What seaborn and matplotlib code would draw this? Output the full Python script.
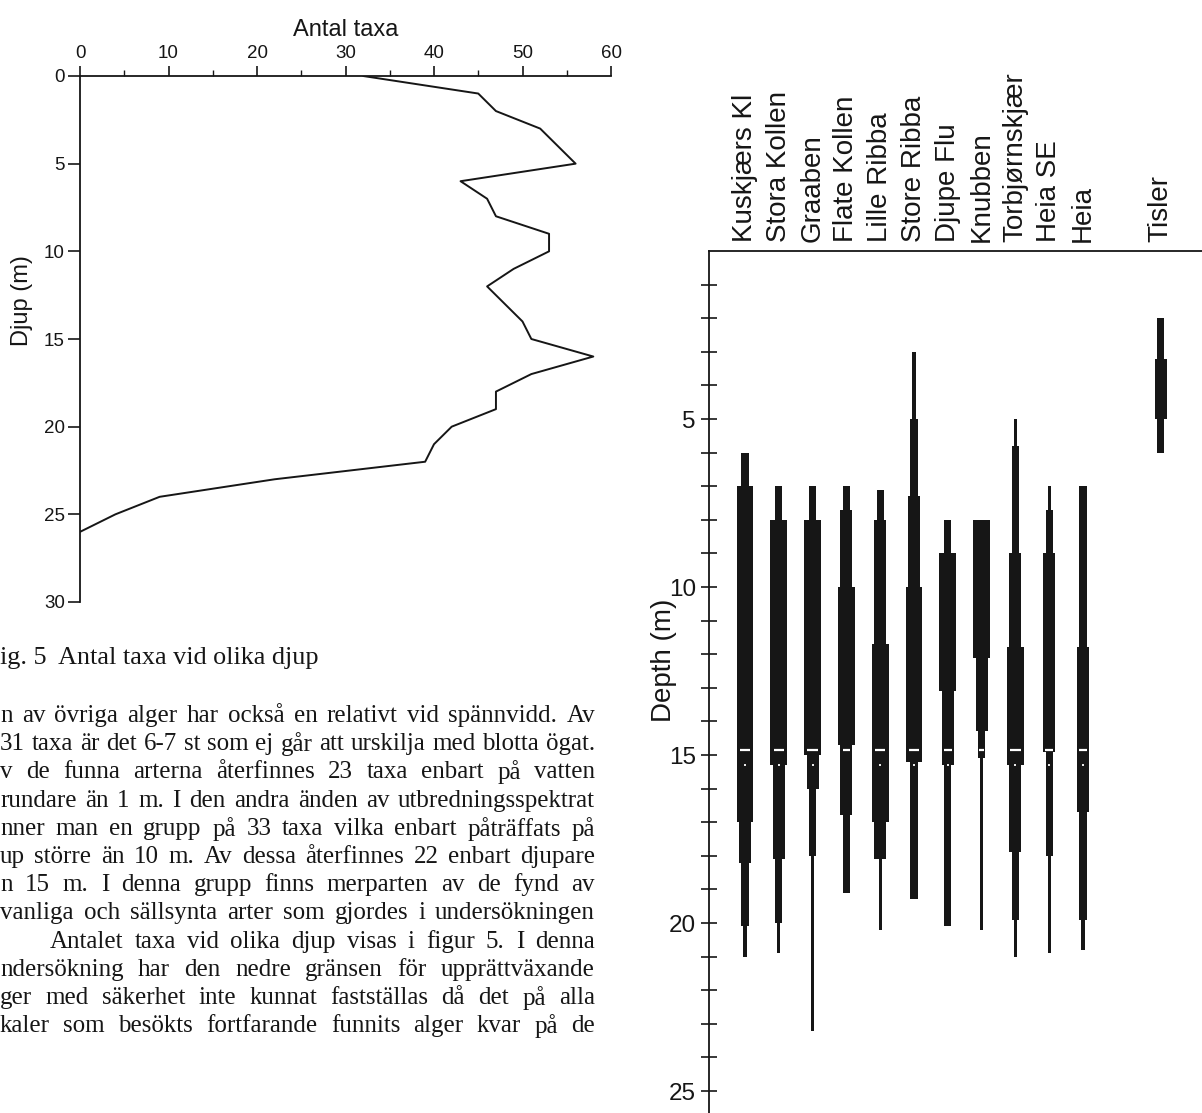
import numpy as np
import pandas as pd
import matplotlib
matplotlib.use("Agg")
import matplotlib.pyplot as plt
import seaborn as sns

# ---------------- data: Fig. 5 (number of taxa vs depth) ----------------
depth_m = [0, 1, 2, 3, 4, 5, 6, 7, 8, 9, 10, 11, 12, 13, 14, 15, 16, 17, 18,
           19, 20, 21, 22, 23, 24, 25, 26]
antal_taxa = [32, 45, 47, 52, 54, 56, 43, 46, 47, 53, 53, 49, 46, 48, 50, 51,
              58, 51, 47, 47, 42, 40, 39, 22, 9, 4, 0]
taxa_ticks = [0, 10, 20, 30, 40, 50, 60]
djup_ticks = [0, 5, 10, 15, 20, 25, 30]

# ---------------- data: depth distribution per site ----------------
sites = ["Kuskjærs Kl", "Stora Kollen", "Graaben", "Flate Kollen", "Lille Ribba",
         "Store Ribba", "Djupe Flu", "Knubben", "Torbjørnskjær", "Heia SE", "Heia",
         "Tisler"]
site_pos = [0, 1, 2, 3, 4, 5, 6, 7, 8, 9, 10, 12.3]

# segments: site index, top depth, bottom depth, abundance class (1..4)
seg_site = [0, 0, 0, 0, 0,
            1, 1, 1, 1, 1,
            2, 2, 2, 2, 2,
            3, 3, 3, 3, 3,
            4, 4, 4, 4, 4,
            5, 5, 5, 5, 5,
            6, 6, 6, 6,
            7, 7, 7, 7,
            8, 8, 8, 8, 8, 8, 8,
            9, 9, 9, 9, 9,
            10, 10, 10, 10,
            11, 11, 11]
seg_top = [6.0, 7.0, 17.0, 18.2, 20.1,
           7.0, 8.0, 15.3, 18.1, 20.0,
           7.0, 8.0, 15.0, 16.0, 18.0,
           7.0, 7.7, 10.0, 14.7, 16.8,
           7.1, 8.0, 11.7, 17.0, 18.1,
           3.0, 5.0, 7.3, 10.0, 15.2,
           8.0, 9.0, 13.1, 15.3,
           8.0, 12.1, 14.3, 15.1,
           5.0, 5.8, 9.0, 11.8, 15.3, 17.9, 19.9,
           7.0, 7.7, 9.0, 14.9, 18.0,
           7.0, 11.8, 16.7, 19.9,
           2.0, 3.2, 5.0]
seg_bottom = [7.0, 17.0, 18.2, 20.1, 21.0,
              8.0, 15.3, 18.1, 20.0, 20.9,
              8.0, 15.0, 16.0, 18.0, 23.2,
              7.7, 10.0, 14.7, 16.8, 19.1,
              8.0, 11.7, 17.0, 18.1, 20.2,
              5.0, 7.3, 10.0, 15.2, 19.3,
              9.0, 13.1, 15.3, 20.1,
              12.1, 14.3, 15.1, 20.2,
              5.8, 9.0, 11.8, 15.3, 17.9, 19.9, 21.0,
              7.7, 9.0, 14.9, 18.0, 20.9,
              11.8, 16.7, 19.9, 20.8,
              3.2, 5.0, 6.0]
seg_class = [2, 4, 3, 2, 1,
             2, 4, 3, 2, 1,
             2, 4, 3, 2, 1,
             2, 3, 4, 3, 2,
             2, 3, 4, 3, 1,
             1, 2, 3, 4, 2,
             2, 4, 3, 2,
             4, 3, 2, 1,
             1, 2, 3, 4, 3, 2, 1,
             1, 2, 3, 2, 1,
             2, 3, 2, 1,
             2, 3, 2]
# small white marks visible on the bars around 15 m
mark_site = [0, 1, 2, 3, 4, 5, 6, 7, 8, 9, 10]
mark_depth = [14.85, 14.85, 14.85, 14.85, 14.85, 14.85, 14.85, 14.85, 14.85, 14.85, 14.85]
dot_site = [0, 1, 2, 4, 5, 6, 8, 9, 10]
dot_depth = [15.3, 15.3, 15.3, 15.3, 15.3, 15.3, 15.3, 15.3, 15.3]
depth_ticks_major = [5, 10, 15, 20, 25]

# ---------------- running text ----------------
caption = "ig. 5  Antal taxa vid olika djup"
body_lines = [
    "n av övriga alger har också en relativt vid spännvidd.  Av",
    "31 taxa är det 6-7 st som ej går att urskilja med blotta ögat.",
    "v de funna arterna återfinnes 23 taxa enbart på vatten",
    "rundare än 1 m. I den andra änden av utbredningsspektrat",
    "nner man en grupp på 33 taxa vilka enbart påträffats på",
    "up större än 10 m. Av dessa återfinnes 22 enbart djupare",
    "n 15 m. I denna grupp finns merparten av de fynd av",
    "vanliga och sällsynta arter som gjordes i undersökningen",
    "Antalet taxa vid olika djup visas i figur 5. I denna",
    "ndersökning har den nedre gränsen för upprättväxande",
    "ger med säkerhet inte kunnat fastställas då det på alla",
    "kaler som besökts fortfarande funnits alger kvar på de",
]

# ---------------- style ----------------
sns.set_theme(style="white")
plt.rcParams["font.family"] = ["Liberation Sans", "DejaVu Sans"]
plt.rcParams["axes.linewidth"] = 1.3
INK = "#161616"

W, H = 1202, 1113
fig = plt.figure(figsize=(W / 100, H / 100), dpi=100)
fig.patch.set_facecolor("white")


def fx(px):
    return px / W


def fy(py):
    return 1 - py / H


# ---------------- left chart ----------------
L0, L1, T0, B0 = 80, 611, 76, 602
axL = fig.add_axes([fx(L0), fy(B0), (L1 - L0) / W, (B0 - T0) / H])
axL.set_facecolor("none")
df_left = pd.DataFrame({"taxa": antal_taxa, "depth": depth_m})
sns.lineplot(data=df_left, x="taxa", y="depth", orient="y", sort=False,
             estimator=None, color=INK, linewidth=1.4, ax=axL)
axL.set_xlim(0, 60)
axL.set_ylim(30, 0)
axL.xaxis.tick_top()
axL.xaxis.set_label_position("top")
axL.set_xticks(taxa_ticks)
axL.set_xticks([5, 15, 25, 35, 45, 55], minor=True)
axL.set_yticks(djup_ticks)
for s in ["right", "bottom"]:
    axL.spines[s].set_visible(False)
for s in ["left", "top"]:
    axL.spines[s].set_color(INK)
axL.tick_params(axis="x", which="major", direction="out", length=7, width=1.2,
                labelsize=13.5, pad=3, colors=INK, top=True, bottom=False)
axL.tick_params(axis="x", which="minor", direction="out", length=4, width=1.0,
                top=True, bottom=False, colors=INK)
axL.tick_params(axis="y", which="major", direction="out", length=9, width=1.2,
                labelsize=13.5, pad=2, colors=INK, left=True)
axL.set_xlabel("Antal taxa", fontsize=17, color=INK)
axL.xaxis.set_label_coords(0.5, 1.087)
axL.xaxis.label.set_verticalalignment("center")
axL.set_ylabel("Djup (m)", fontsize=17, color=INK)
axL.yaxis.set_label_coords(-0.109, 0.574)
axL.yaxis.label.set_verticalalignment("center")

# ---------------- right chart ----------------
R0, RT = 709, 251
PXU, PXM = 33.8, 33.6
xlim = (-1.065, 14.5)
ylim = (30, 0)
wpx = (xlim[1] - xlim[0]) * PXU
hpx = (ylim[0] - ylim[1]) * PXM
axR = fig.add_axes([fx(R0), fy(RT + hpx), wpx / W, hpx / H])
axR.set_facecolor("none")

class_width = {1: 0.09, 2: 0.21, 3: 0.355, 4: 0.5}
segs = pd.DataFrame({"site": seg_site, "top": seg_top, "bottom": seg_bottom,
                     "cls": seg_class})
segs["x"] = [site_pos[i] for i in segs["site"]]
segs["w"] = segs["cls"].map(class_width)
axR.bar(segs["x"], segs["bottom"] - segs["top"], bottom=segs["top"],
        width=segs["w"], color=INK, linewidth=0)


def width_at(site, d):
    sub = segs[(segs["site"] == site) & (segs["top"] <= d) & (segs["bottom"] >= d)]
    return float(sub["w"].max()) if len(sub) else 0.0


for s_i, d in zip(mark_site, mark_depth):
    w = width_at(s_i, d) * 0.62
    axR.hlines(d, site_pos[s_i] - w / 2, site_pos[s_i] + w / 2, color="white",
               linewidth=1.6)
for s_i, d in zip(dot_site, dot_depth):
    axR.hlines(d, site_pos[s_i] - 0.03, site_pos[s_i] + 0.03, color="white",
               linewidth=1.3)

axR.set_xlim(*xlim)
axR.set_ylim(*ylim)
axR.xaxis.tick_top()
axR.set_xticks(site_pos, labels=sites, rotation=90)
axR.tick_params(axis="x", length=0, pad=6.5, labelsize=20, colors=INK)
for lab in axR.get_xticklabels():
    lab.set_verticalalignment("bottom")
axR.set_yticks(depth_ticks_major)
axR.set_yticks([d for d in range(1, 30) if d % 5 != 0], minor=True)
axR.tick_params(axis="y", which="both", direction="inout", length=12, width=1.2,
                left=True, colors=INK)
axR.tick_params(axis="y", which="major", labelsize=17.5, pad=3.5)
for s in ["right", "bottom"]:
    axR.spines[s].set_visible(False)
for s in ["left", "top"]:
    axR.spines[s].set_color(INK)
axR.set_ylabel("Depth (m)", fontsize=20, color=INK)
axR.yaxis.set_label_coords((664 - R0) / wpx, (RT + hpx - 660) / hpx)
axR.yaxis.label.set_verticalalignment("center")

# ---------------- running text (justified) ----------------
SERIF = ["Liberation Serif", "DejaVu Serif"]
FS = 18
fig.text(fx(0), fy(658), caption, fontsize=18.8, family=SERIF, va="center",
         ha="left", color=INK)
renderer = fig.canvas.get_renderer()
line_y = [716, 744, 772, 801, 829, 857, 885, 913, 942, 970, 998, 1026]
line_x0 = [0, 0, 0, 0, 0, 0, 0, 0, 50, 0, 0, 0]
X1 = 595
MIN_GAP = 4.0
for line, y, x0 in zip(body_lines, line_y, line_x0):
    words = line.split()
    fs = FS
    txts = [fig.text(0, fy(y), w, fontsize=fs, family=SERIF, va="center",
                     ha="left", color=INK) for w in words]
    widths = [t.get_window_extent(renderer).width for t in txts]
    need = sum(widths) + MIN_GAP * (len(words) - 1)
    if need > X1 - x0:
        fs = FS * (X1 - x0 - MIN_GAP * (len(words) - 1)) / sum(widths)
        for t in txts:
            t.set_fontsize(fs)
        widths = [t.get_window_extent(renderer).width for t in txts]
    gap = (X1 - x0 - sum(widths)) / max(len(words) - 1, 1)
    x = x0
    for t, w in zip(txts, widths):
        t.set_x(fx(x))
        x += w + gap

fig.savefig("out.png", dpi=100, facecolor="white")
